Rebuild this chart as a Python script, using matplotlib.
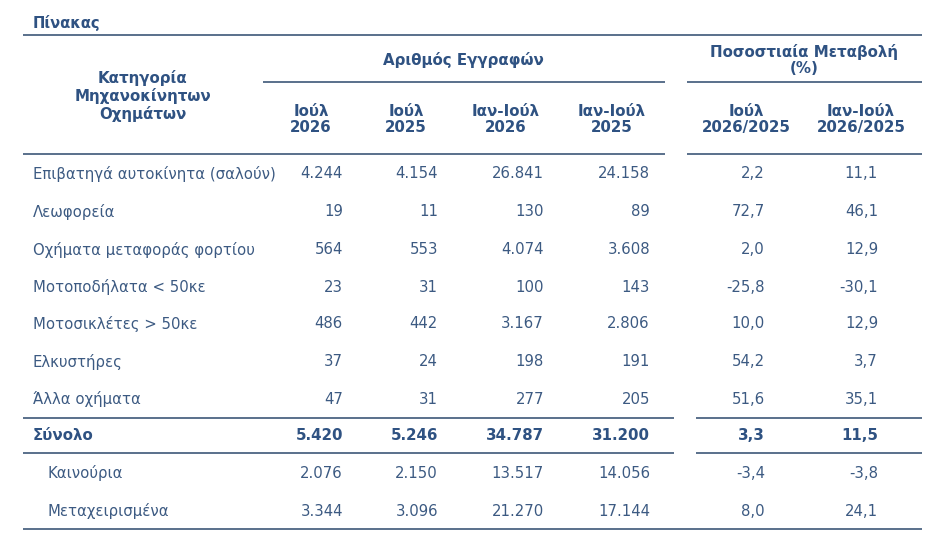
import matplotlib.pyplot as plt

plt.rcParams['font.family'] = ['DejaVu Sans']

# data
categories = ['Επιβατηγά αυτοκίνητα (σαλούν)', 'Λεωφορεία', 'Οχήματα μεταφοράς φορτίου',
              'Μοτοποδήλατα < 50κε', 'Μοτοσικλέτες > 50κε', 'Ελκυστήρες', 'Άλλα οχήματα']
jul_2026 = ['4.244', '19', '564', '23', '486', '37', '47']
jul_2025 = ['4.154', '11', '553', '31', '442', '24', '31']
janjul_2026 = ['26.841', '130', '4.074', '100', '3.167', '198', '277']
janjul_2025 = ['24.158', '89', '3.608', '143', '2.806', '191', '205']
pct_jul = ['2,2', '72,7', '2,0', '-25,8', '10,0', '54,2', '51,6']
pct_janjul = ['11,1', '46,1', '12,9', '-30,1', '12,9', '3,7', '35,1']

total_label = 'Σύνολο'
total_row = ['5.420', '5.246', '34.787', '31.200', '3,3', '11,5']

sub_labels = ['Καινούρια', 'Μεταχειρισμένα']
sub_rows = [['2.076', '2.150', '13.517', '14.056', '-3,4', '-3,8'],
            ['3.344', '3.096', '21.270', '17.144', '8,0', '24,1']]

col_heads = ['Ιούλ\n2026', 'Ιούλ\n2025', 'Ιαν-Ιούλ\n2026', 'Ιαν-Ιούλ\n2025',
             'Ιούλ\n2026/2025', 'Ιαν-Ιούλ\n2026/2025']

# layout (pixels)
W, H = 953, 560
head_col = '#2f5282'
body_col = '#3c5a82'
line_col = '#3d5878'
fs_body = 10.7
fs_head = 10.8
col_right = [343, 438, 544, 650, 765, 878]
col_center = [311, 406, 506, 612, 746, 861]
row_y = [174, 212, 250, 287, 324, 362, 399]

fig = plt.figure(figsize=(W / 100, H / 100), dpi=100)
ax = fig.add_axes([0, 0, 1, 1])
ax.set_xlim(0, W)
ax.set_ylim(H, 0)
ax.axis('off')


def hline(y, x0, x1):
    ax.plot([x0, x1], [y, y], color=line_col, lw=1.2, solid_capstyle='butt')


ax.text(33, 23, 'Πίνακας', color=head_col, fontsize=10.6, fontweight='bold', va='center')
hline(35, 23, 922)

ax.text(143, 96, 'Κατηγορία\nΜηχανοκίνητων\nΟχημάτων', color=head_col, fontsize=fs_head,
        fontweight='bold', ha='center', va='center', linespacing=1.18)
ax.text(463, 60, 'Αριθμός Εγγραφών', color=head_col, fontsize=fs_head, fontweight='bold',
        ha='center', va='center')
ax.text(804, 60, 'Ποσοστιαία Μεταβολή\n(%)', color=head_col, fontsize=fs_head, fontweight='bold',
        ha='center', va='center', linespacing=1.05)
hline(82, 263, 665)
hline(82, 687, 922)
for cx, lab in zip(col_center, col_heads):
    ax.text(cx, 119.5, lab, color=head_col, fontsize=fs_head, fontweight='bold',
            ha='center', va='center', linespacing=1.12)
hline(154, 23, 665)
hline(154, 687, 922)

cols = [jul_2026, jul_2025, janjul_2026, janjul_2025, pct_jul, pct_janjul]
for i, cat in enumerate(categories):
    ax.text(33, row_y[i], cat, color=body_col, fontsize=fs_body, va='center')
    for c, vals in enumerate(cols):
        ax.text(col_right[c], row_y[i], vals[i], color=body_col, fontsize=fs_body,
                ha='right', va='center')

hline(418, 23, 674)
hline(418, 696, 922)
ax.text(33, 436, total_label, color=head_col, fontsize=fs_head, fontweight='bold', va='center')
for c, v in enumerate(total_row):
    ax.text(col_right[c], 436, v, color=head_col, fontsize=fs_head, fontweight='bold',
            ha='right', va='center')
hline(453, 23, 674)
hline(453, 696, 922)

for j, (lab, vals) in enumerate(zip(sub_labels, sub_rows)):
    y = [473, 511][j]
    ax.text(48, y, lab, color=body_col, fontsize=fs_body, va='center')
    for c, v in enumerate(vals):
        ax.text(col_right[c], y, v, color=body_col, fontsize=fs_body, ha='right', va='center')
hline(529, 23, 922)

fig.savefig('out.png', dpi=100, facecolor='white')
